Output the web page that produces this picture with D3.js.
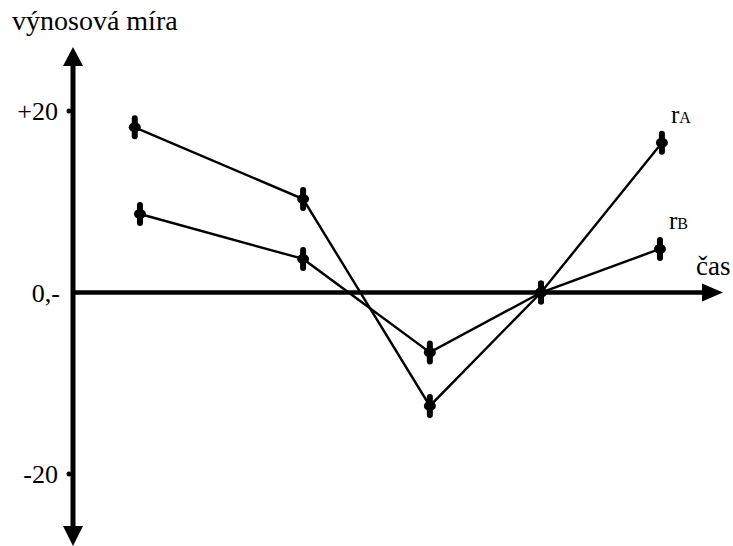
<!DOCTYPE html>
<html>
<head>
<meta charset="utf-8">
<script src="https://cdn.jsdelivr.net/npm/d3@7"></script>
<style>
  body { margin: 0; background: #fff; }
</style>
</head>
<body>
<div id="chart"></div>
<script>
// data
var tA = [0.95, 3.54, 5.49, 7.2, 9.06];   // time positions of r_A points
var tB = [1.03, 3.54, 5.49, 7.2, 9.03];   // time positions of r_B points
var rA = [18.2, 10.3, -12.5, 0, 16.5];
var rB = [8.65, 3.7, -6.6, 0, 4.8];
var yTicks = [20, 0, -20];
var yTickLabels = ["+20", "0,-", "-20"];

var W = 733, H = 546;
var FONT = "'Liberation Serif', 'Times New Roman', Times, serif";

var svg = d3.select("#chart").append("svg")
  .attr("width", W)
  .attr("height", H)
  .attr("font-family", FONT)
  .style("font-family", FONT);

var x = d3.scaleLinear().domain([0, 10]).range([73, 723]);
var y = d3.scaleLinear().domain([-20, 20]).range([474, 111]);

var x0 = x(0), y0 = y(0);

//========= axes =========//
svg.append("line")
  .attr("x1", x0).attr("x2", x0)
  .attr("y1", 62).attr("y2", 530)
  .attr("stroke", "#000").attr("stroke-width", 5);
svg.append("line")
  .attr("x1", x0).attr("x2", x(10) - 16)
  .attr("y1", y0).attr("y2", y0)
  .attr("stroke", "#000").attr("stroke-width", 4.5);

// arrow heads
svg.append("path").attr("d", "M" + x0 + ",47 L" + (x0 - 10) + ",66 L" + (x0 + 10) + ",66 Z");
svg.append("path").attr("d", "M" + x0 + ",546 L" + (x0 - 10) + ",526 L" + (x0 + 10) + ",526 Z");
svg.append("path").attr("d", "M" + x(10) + "," + y0 + " L" + (x(10) - 21) + "," + (y0 - 9) + " L" + (x(10) - 21) + "," + (y0 + 9) + " Z");

// ticks
svg.selectAll(".tickdot")
  .data(yTicks.filter(function(d){ return d !== 0; }))
  .enter().append("circle")
  .attr("cx", x0 - 4)
  .attr("cy", function(d){ return y(d); })
  .attr("r", 2.5);

svg.selectAll(".ticklabel")
  .data(yTicks)
  .enter().append("text")
  .attr("x", function(d){ return d === 0 ? 60 : 58; })
  .attr("y", function(d){ return y(d) + 9; })
  .attr("text-anchor", "end")
  .style("font-size", "26px")
  .text(function(d, i){ return yTickLabels[i]; });

svg.append("text")
  .attr("x", 12).attr("y", 30)
  .style("font-size", "28px")
  .text("výnosová míra");

svg.append("text")
  .attr("x", 696).attr("y", 275)
  .style("font-size", "27px")
  .text("čas");

//========= series =========//
var line = d3.line()
  .x(function(d){ return x(d[0]); })
  .y(function(d){ return y(d[1]); });

var series = [
  { name: "A", pts: d3.zip(tA, rA) },
  { name: "B", pts: d3.zip(tB, rB) }
];

series.forEach(function(s){
  svg.append("path")
    .attr("d", line(s.pts))
    .attr("fill", "none")
    .attr("stroke", "#000")
    .attr("stroke-width", 2.4);

  var m = svg.selectAll(".m" + s.name)
    .data(s.pts)
    .enter().append("g")
    .attr("transform", function(d){ return "translate(" + x(d[0]) + "," + y(d[1]) + ")"; });
  m.append("rect")
    .attr("x", -3).attr("y", -12)
    .attr("width", 6).attr("height", 24)
    .attr("rx", 3);
  m.append("ellipse")
    .attr("rx", 6).attr("ry", 5);

  var last = s.pts[s.pts.length - 1];
  var lab = svg.append("text")
    .attr("x", x(last[0]) + 9)
    .attr("y", y(last[1]) - 20)
    .style("font-size", "25px");
  lab.append("tspan").text("r");
  lab.append("tspan").style("font-size", "16px").text(s.name);
});
</script>
</body>
</html>
